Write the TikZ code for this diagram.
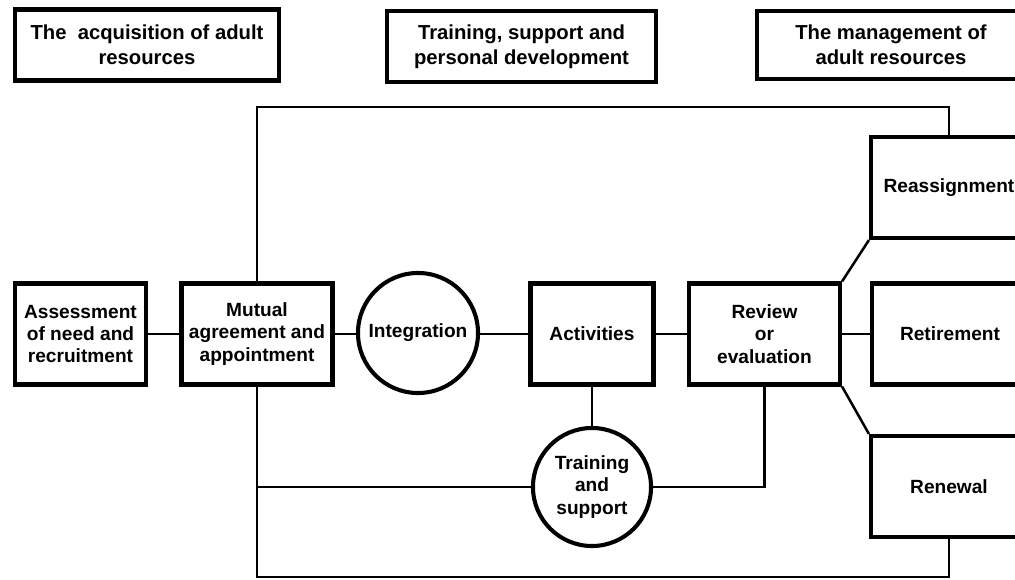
\documentclass[tikz,border=0pt]{standalone}
\usepackage{fontspec}
\setmainfont{Liberation Sans}
\usetikzlibrary{calc}

\begin{document}
\begin{tikzpicture}[x=0.025cm, y=-0.025cm, line join=miter,
    stage/.style={draw, rectangle, line width=2.9pt, align=center, inner sep=0pt,
      font=\fontsize{13.6}{15.8}\selectfont\bfseries, minimum height=2.525cm},
    phase/.style={draw, rectangle, line width=3.1pt, align=center, inner sep=0pt,
      font=\fontsize{14.4}{17.8}\selectfont\bfseries, minimum height=1.775cm},
    hub/.style={draw, circle, line width=2.9pt, align=center, inner sep=0pt,
      font=\fontsize{13.6}{15.8}\selectfont\bfseries},
    link/.style={line width=1.8pt}]
      \clip (0,0) rectangle (1015,580);
      \node [phase, minimum width=6.6cm] (acq) at (147,45) {The~~acquisition of adult\\resources};
      \node [phase, minimum width=6.725cm] (dev) at (521.5,46.5) {Training, support and\\personal development};
      \node [phase, minimum width=6.7cm, minimum height=1.7cm] (man) at (891,45) {The management of\\adult resources};

      \node [stage, minimum width=3.275cm] (assess) at (80.5,334) {Assessment\\of need and\\recruitment};
      \node [stage, minimum width=3.775cm] (mutual) at (257,334) {Mutual\\agreement and\\appointment};
      \node [hub, minimum size=3cm] (integ) at (418,333) {Integration};
      \node [stage, minimum width=3.075cm] (activ) at (592,334) {Activities};
      \node [stage, minimum width=3.775cm] (review) at (764.5,334) {Review\\or\\evaluation};
      \node [hub, minimum size=2.95cm] (train) at (592,487) {Training\\and\\support};

      \node [stage, minimum width=3.9cm] (reassign) at (949,187.5) {Reassignment};
      \node [stage, minimum width=3.9cm] (retire) at (950,334) {Retirement};
      \node [stage, minimum width=3.9cm] (renew) at (949,486.5) {Renewal};

      \coordinate (top) at (0,107);
      \coordinate (bot) at (0,577);

      \draw [link] (assess) -- (mutual);
      \draw [link] (mutual.east) -- (mutual.east -| integ.west);
      \draw [link] (integ.east |- activ.west) -- (activ.west);
      \draw [link] (activ) -- (review);
      \draw [link] (review) -- (retire);
      \draw [link] (review.north east) -- (reassign.south west);
      \draw [link] (review.south east) -- (renew.north west);
      \draw [link] (activ) -- (train);
      \draw [link] (review.south) |- (train.east);
      \draw [link] (mutual.south) |- (train.west);
      \draw [link] (mutual.south) |- (bot -| renew.south) -- (renew.south);
      \draw [link] (mutual.north) |- (top -| reassign.north) -- (reassign.north);
    \end{tikzpicture}
\end{document}
